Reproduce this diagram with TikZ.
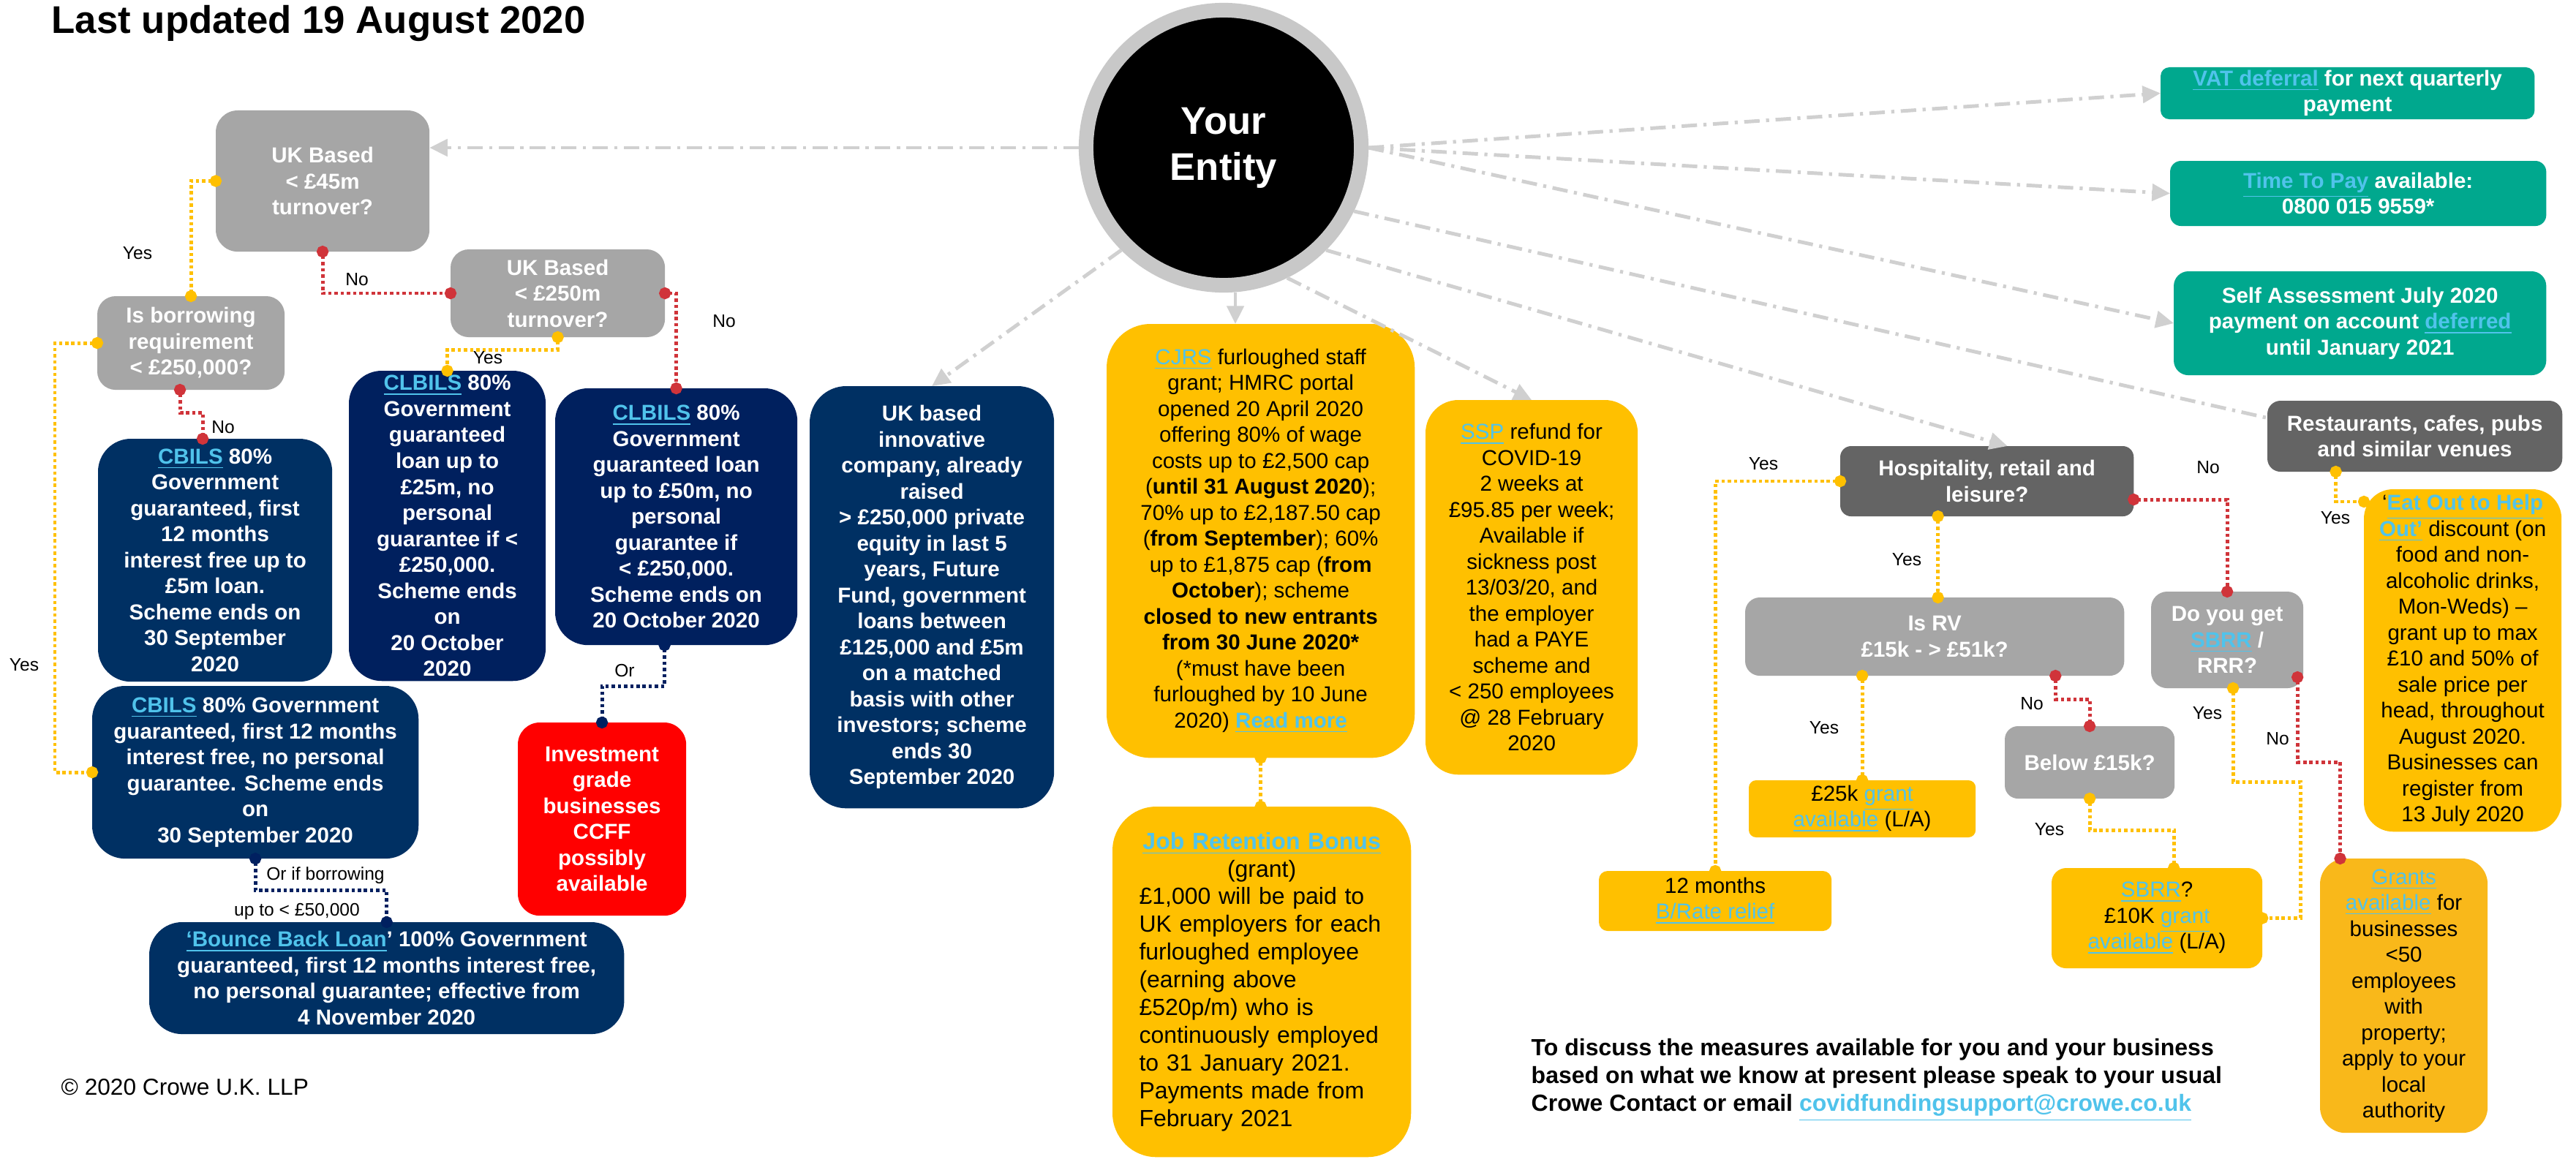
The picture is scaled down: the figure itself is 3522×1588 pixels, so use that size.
\documentclass[tikz,border=0pt]{standalone}
\usepackage{fontspec}
\setmainfont{Liberation Sans}
\usetikzlibrary{arrows.meta}
\definecolor{lgray}{HTML}{A6A6A6}
\definecolor{dgray}{HTML}{646464}
\definecolor{navyA}{RGB}{0,48,99}
\definecolor{navyB}{RGB}{0,32,94}
\definecolor{yel}{HTML}{FFC000}
\definecolor{grantsY}{HTML}{F9B81A}
\definecolor{teal}{RGB}{0,168,142}
\definecolor{linkc}{RGB}{80,195,235}
\definecolor{cred}{RGB}{208,52,58}
\definecolor{cnavy}{RGB}{0,32,96}
\definecolor{ddgray}{HTML}{D0D0D0}
\definecolor{ring}{HTML}{C8C8C8}
\newcommand{\lnk}[1]{{\color{linkc}\underline{#1}}}
\newcommand{\fsn}{\fontsize{8.4}{10.1}\selectfont}
\begin{document}
\begin{tikzpicture}[x=0.01cm,y=-0.01cm,
  bx/.style={rectangle, inner sep=0pt, outer sep=0pt, align=center, anchor=north west, font=\fsn},
  wbx/.style={bx, text=white, font=\fsn\bfseries},
  ybx/.style={bx, text=black, fill=yel},
  lbl/.style={font=\fontsize{7}{8.4}\selectfont, inner sep=0pt},
  cnn/.style={line width=1.4pt, dash pattern=on 1.3pt off 1.1pt, {Circle[length=4.6pt]}-{Circle[length=4.6pt]}, shorten <=-2.3pt, shorten >=-2.3pt},
  cy/.style={cnn, draw=yel},
  cr/.style={cnn, draw=cred},
  cn/.style={cnn, draw=cnavy},
  ddash/.style={draw=ddgray, line width=1.4pt, dash pattern=on 6pt off 2.5pt on 1.2pt off 2.5pt, -{Triangle[length=7pt,width=6.5pt]}},
  ddnotip/.style={draw=ddgray, line width=1.4pt, dash pattern=on 6pt off 2.5pt on 1.2pt off 2.5pt}
]
\fill[white] (0,0) rectangle (3522,1588);
\useasboundingbox (0,0) rectangle (3522,1588);

% title and footer
\node[anchor=base west, inner sep=0pt, font=\fontsize{15}{18}\selectfont\bfseries] (title) at (70,46) {Last updated 19 August 2020};
\node[anchor=west, inner sep=0pt, font=\fontsize{9}{11}\selectfont] (copy) at (83,1487) {© 2020 Crowe U.K. LLP};
\node[anchor=west, inner sep=0pt, align=left, font=\fontsize{9.1}{10.8}\selectfont\bfseries] (contact) at (2093,1477) {To discuss the measures available for you and your business\\based on what we know at present please speak to your usual\\Crowe Contact or email \lnk{covidfundingsupport@crowe.co.uk}};

% central entity
\node[circle, fill=black, draw=ring, line width=0.2cm, minimum size=3.76cm, inner sep=0pt, text=white, font=\fontsize{15}{18}\selectfont\bfseries, align=center] (entity) at (1673,202) {Your\\Entity};

% left tree
\node[wbx, fill=lgray, rounded corners=0.3cm, minimum width=2.92cm, minimum height=1.93cm] (box1) at (295,151) {UK Based\\< £45m\\turnover?};
\node[wbx, fill=lgray, rounded corners=0.25cm, minimum width=2.93cm, minimum height=1.20cm] (box2) at (616,341) {UK Based\\< £250m\\turnover?};
\node[wbx, fill=lgray, rounded corners=0.25cm, minimum width=2.56cm, minimum height=1.28cm] (box3) at (133,405) {Is borrowing\\requirement\\< £250,000?};
\node[wbx, fill=navyA, rounded corners=0.45cm, minimum width=3.20cm, minimum height=3.32cm] (cbils1) at (134,600) {\lnk{CBILS} 80\%\\Government\\guaranteed, first\\12 months\\interest free up to\\£5m loan.\\Scheme ends on\\30 September\\2020};
\node[wbx, fill=navyB, rounded corners=0.45cm, minimum width=2.69cm, minimum height=4.24cm] (clbilsL) at (477,507) {\lnk{CLBILS} 80\%\\Government\\guaranteed\\loan up to\\£25m, no\\personal\\guarantee if <\\£250,000.\\Scheme ends\\on\\20 October\\2020};
\node[wbx, fill=navyB, rounded corners=0.45cm, minimum width=3.31cm, minimum height=3.51cm] (clbilsR) at (759,531) {\lnk{CLBILS} 80\%\\Government\\guaranteed loan\\up to £50m, no\\personal\\guarantee if\\< £250,000.\\Scheme ends on\\20 October 2020};
\node[wbx, fill=navyA, rounded corners=0.45cm, minimum width=4.46cm, minimum height=2.36cm] (cbils2) at (126,938) {\lnk{CBILS} 80\% Government\\guaranteed, first 12 months\\interest free, no personal\\guarantee. Scheme ends\\on\\30 September 2020};
\node[wbx, fill=navyA, rounded corners=0.45cm, minimum width=6.49cm, minimum height=1.53cm] (bbl) at (204,1261) {\lnk{‘Bounce Back Loan}’ 100\% Government\\guaranteed, first 12 months interest free,\\no personal guarantee; effective from\\4 November 2020};
\node[wbx, fill=red, rounded corners=0.3cm, minimum width=2.30cm, minimum height=2.64cm] (invest) at (708,988) {Investment\\grade\\businesses\\CCFF\\possibly\\available};
\node[wbx, fill=navyA, rounded corners=0.5cm, minimum width=3.34cm, minimum height=5.77cm] (innov) at (1107,528) {UK based\\innovative\\company, already\\raised\\> £250,000 private\\equity in last 5\\years, Future\\Fund, government\\loans between\\£125,000 and £5m\\on a matched\\basis with other\\investors; scheme\\ends 30\\September 2020};

% middle yellow
\node[ybx, rounded corners=0.6cm, minimum width=4.21cm, minimum height=5.93cm] (cjrs) at (1513,443) {\lnk{CJRS} furloughed staff\\grant; HMRC portal\\opened 20 April 2020\\offering 80\% of wage\\costs up to £2,500 cap\\(\textbf{until 31 August 2020});\\70\% up to £2,187.50 cap\\(\textbf{from September}); 60\%\\up to £1,875 cap (\textbf{from}\\\textbf{October}); scheme\\\textbf{closed to new entrants}\\\textbf{from 30 June 2020*}\\(*must have been\\furloughed by 10 June\\2020) \lnk{\textbf{Read more}}};
\node[ybx, rounded corners=0.6cm, minimum width=4.08cm, minimum height=4.79cm, font=\fontsize{9.1}{10.8}\selectfont, text width=3.35cm, align=left] (jrb) at (1521,1103) {{\centering\lnk{\textbf{Job Retention Bonus}}\\(grant)\par}\raggedright £1,000 will be paid to\\UK employers for each\\furloughed employee\\(earning above\\£520p/m) who is\\continuously employed\\to 31 January 2021.\\Payments made from\\February 2021};
\node[ybx, rounded corners=0.45cm, minimum width=2.90cm, minimum height=5.12cm] (ssp) at (1949,547) {\lnk{SSP} refund for\\COVID-19\\2 weeks at\\£95.85 per week;\\Available if\\sickness post\\13/03/20, and\\the employer\\had a PAYE\\scheme and\\< 250 employees\\@ 28 February\\2020};

% right teal
\node[wbx, fill=teal, rounded corners=0.12cm, minimum width=5.11cm, minimum height=0.71cm] (vat) at (2954,92) {\lnk{VAT deferral} for next quarterly\\payment};
\node[wbx, fill=teal, rounded corners=0.15cm, minimum width=5.14cm, minimum height=0.89cm] (ttp) at (2967,220) {\lnk{Time To Pay} available:\\0800 015 9559*};
\node[wbx, fill=teal, rounded corners=0.2cm, minimum width=5.09cm, minimum height=1.42cm] (sa) at (2972,371) {Self Assessment July 2020\\payment on account \lnk{deferred}\\until January 2021};

% right tree
\node[wbx, fill=dgray, rounded corners=0.18cm, minimum width=4.03cm, minimum height=0.97cm] (rest) at (3100,548) {Restaurants, cafes, pubs\\and similar venues};
\node[wbx, fill=dgray, rounded corners=0.15cm, minimum width=4.01cm, minimum height=0.96cm] (hosp) at (2516,610) {Hospitality, retail and\\leisure?};
\node[wbx, fill=lgray, rounded corners=0.2cm, minimum width=5.18cm, minimum height=1.07cm] (isrv) at (2386,817) {Is RV\\£15k - > £51k?};
\node[ybx, rounded corners=0.1cm, minimum width=3.10cm, minimum height=0.78cm] (g25) at (2391,1067) {£25k \lnk{grant}\\\lnk{available} (L/A)};
\node[ybx, rounded corners=0.12cm, minimum width=3.18cm, minimum height=0.82cm] (twelve) at (2186,1191) {12 months\\\lnk{B/Rate relief}};
\node[wbx, fill=lgray, rounded corners=0.18cm, minimum width=2.32cm, minimum height=0.99cm] (below) at (2741,993) {Below £15k?};
\node[ybx, rounded corners=0.2cm, minimum width=2.88cm, minimum height=1.37cm] (sbrr) at (2805,1187) {\lnk{SBRR}?\\£10K \lnk{grant}\\\lnk{available} (L/A)};
\node[wbx, fill=lgray, rounded corners=0.22cm, minimum width=2.08cm, minimum height=1.32cm] (doyou) at (2941,809) {Do you get\\\lnk{SBRR} /\\RRR?};
\node[ybx, fill=grantsY, rounded corners=0.35cm, minimum width=2.29cm, minimum height=3.75cm] (grants) at (3172,1174) {\lnk{Grants}\\\lnk{available} for\\businesses\\<50\\employees\\with\\property;\\apply to your\\local\\authority};
\node[ybx, rounded corners=0.4cm, minimum width=2.70cm, minimum height=4.68cm] (eatout) at (3232,669) {‘\lnk{\textbf{Eat Out to Help}}\\\lnk{\textbf{Out’}} discount (on\\food and non-\\alcoholic drinks,\\Mon-Weds) –\\grant up to max\\£10 and 50\% of\\sale price per\\head, throughout\\August 2020.\\Businesses can\\register from\\13 July 2020};

% dash-dot arrows from the entity
\draw[ddash] (entity.west) -- (entity.west -| box1.east);
\draw[ddash] (entity.225) -- (innov.north);
\draw[ddash] ([xshift=0.16cm]entity.south) -- ([xshift=0.16cm]entity.south |- cjrs.north);
\draw[ddash] (entity.-64) -- (ssp.north);
\draw[ddash] (entity.-45) -- ([xshift=0.28cm]hosp.north);
\draw[ddnotip] (entity.-26) -- ([yshift=0.25cm]rest.west);
\draw[ddash] (entity.east) -- (vat.west);
\draw[ddash] (entity.east) -- (ttp.west);
\draw[ddash] (entity.east) -- (sa.west);

% left connectors
\draw[cy] (box1.west) -| (box3.north);
\draw[cr] (box1.south) |- (box2.west);
\draw[cr] (box2.east) -| (clbilsR.north);
\draw[cy] (box2.south) -- ++(0,17) -| (clbilsL.north);
\draw[cy] (box3.west) -- ++(-58,0) |- (cbils2.west);
\draw[cr] ([xshift=-0.15cm]box3.south) -- ++(0,31) -| ([xshift=-0.17cm]cbils1.north);
\draw[cn] ([xshift=-0.16cm]clbilsR.south) -- ++(0,56) -| (invest.north);
\draw[cn] (cbils2.south) -- ++(0,43) -| (bbl.north);
\draw[cy] (cjrs.south) -- (cjrs.south |- jrb.north);

% right connectors
\draw[cy] (hosp.west) -| (twelve.north);
\draw[cy] ([xshift=-0.67cm]hosp.south) -- ([xshift=-0.67cm]hosp.south |- isrv.north);
\draw[cy] (isrv.south -| g25.north) -- (g25.north);
\draw[cr] ([xshift=1.65cm]isrv.south) -- ++(0,32) -| (below.north);
\draw[cy] (below.south) -- ++(0,43) -| ([xshift=0.23cm]sbrr.north);
\draw[cr] ([yshift=-0.25cm]hosp.east) -| (doyou.north);
\draw[cy] ([xshift=0.08cm]doyou.south) -- ++(0,128) -- ++(92,0) |- (sbrr.east);
\draw[cr] ([xshift=-0.08cm,yshift=-0.51cm]doyou.east) -- ++(0,116) -| ([xshift=-0.87cm]grants.north);
\draw[cy] ([xshift=-1.08cm]rest.south) |- ([yshift=2.17cm]eatout.west);

% labels
\node[lbl] (l1) at (188,346) {Yes};
\node[lbl] (l2) at (488,382) {No};
\node[lbl] (l3) at (667,489) {Yes};
\node[lbl] (l4) at (990,439) {No};
\node[lbl] (l5) at (305,584) {No};
\node[lbl] (l6) at (33,909) {Yes};
\node[lbl] (l7) at (854,917) {Or};
\node[lbl] (l8) at (445,1197) {Or if borrowing};
\node[lbl] (l9) at (406,1246) {up to < £50,000};
\node[lbl] (l10) at (2411,634) {Yes};
\node[lbl] (l11) at (2607,765) {Yes};
\node[lbl] (l12) at (2494,995) {Yes};
\node[lbl] (l13) at (2778,962) {No};
\node[lbl] (l14) at (2802,1134) {Yes};
\node[lbl] (l15) at (3019,639) {No};
\node[lbl] (l16) at (3018,975) {Yes};
\node[lbl] (l17) at (3114,1010) {No};
\node[lbl] (l18) at (3193,708) {Yes};
\end{tikzpicture}
\end{document}
